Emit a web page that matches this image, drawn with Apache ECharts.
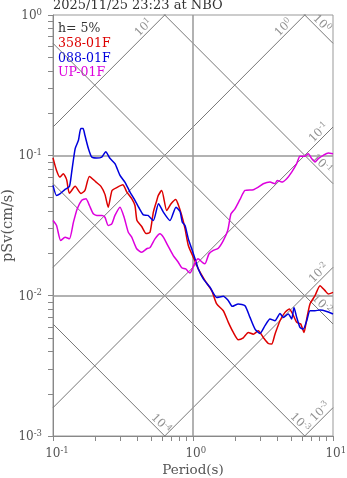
<!DOCTYPE html>
<html><head><meta charset="utf-8">
<script src="https://cdn.jsdelivr.net/npm/echarts@6/dist/echarts.min.js"></script>
<style>html,body{margin:0;padding:0;background:#fff}#c{width:347px;height:478px}</style>
</head><body><div id="c"></div>
<script>
const titleText = '2025/11/25 23:23 at NBO';
const dampingText = 'h= 5%';
const seriesNames = ['358-01F', '088-01F', 'UP-01F'];
const seriesColors = ['#dd0000', '#0000dd', '#dd00dd'];
const xTickExps = [-1, 0, 1];
const yTickExps = [-3, -2, -1, 0];
const accelLevels = [10, 1, 0.1, 0.01, 0.001];
const accelLabelT = [0.477, 4.77, 8.5, 8.5, 8.7];
const dispLevels = [1, 0.1, 0.01, 0.001, 0.0001];
const dispLabelT = [7.75, 7.75, 7.75, 5.42, 0.55];

const period358 = [0.100,0.106,0.112,0.1185,0.125,0.131,0.144,0.1585,0.169,0.182,0.203,0.220,0.235,0.248,0.264,0.287,0.315,0.338,0.365,0.385,0.398,0.430,0.462,0.493,0.521,0.551,0.565,0.598,0.649,0.697,0.752,0.785,0.831,0.877,0.926,1.005,1.091,1.218,1.360,1.477,1.646,1.788,1.941,2.107,2.287,2.483,2.696,2.927,3.177,3.451,3.648,3.852,4.182,4.541,4.875,5.153,5.505,5.878,6.209,6.489,6.852,7.438,8.075,8.770,9.257,10];
const sv358 = [0.0960,0.0781,0.0700,0.0740,0.0674,0.0537,0.0601,0.0535,0.0562,0.0708,0.0645,0.0601,0.0527,0.0427,0.0562,0.0591,0.0616,0.0544,0.0491,0.0439,0.0343,0.0311,0.0277,0.0283,0.0394,0.0477,0.0518,0.0562,0.0405,0.0452,0.0485,0.0445,0.0373,0.0300,0.0228,0.0188,0.0155,0.0128,0.01086,0.00873,0.00781,0.00645,0.00547,0.00485,0.00501,0.00547,0.00532,0.00562,0.00504,0.00456,0.00452,0.00532,0.00663,0.00760,0.00804,0.00740,0.00645,0.00628,0.00547,0.00682,0.00873,0.0100,0.01179,0.01086,0.01028,0.01056];

const period088 = [0.100,0.106,0.112,0.122,0.131,0.136,0.144,0.152,0.158,0.164,0.169,0.179,0.189,0.205,0.223,0.238,0.255,0.277,0.301,0.327,0.355,0.385,0.418,0.442,0.477,0.521,0.567,0.614,0.685,0.756,0.808,0.839,0.877,0.926,0.979,1.034,1.091,1.185,1.323,1.477,1.646,1.788,1.909,2.107,2.352,2.554,2.773,3.010,3.268,3.548,3.852,4.182,4.416,4.794,5.070,5.265,5.505,5.811,6.138,6.489,6.852,7.438,8.075,9.016,10];
const sv088 = [0.0611,0.0518,0.0532,0.0572,0.0601,0.0760,0.1117,0.1280,0.1551,0.1551,0.1389,0.1117,0.0972,0.0956,0.0972,0.1059,0.0952,0.0873,0.0720,0.0642,0.0547,0.0477,0.0411,0.0377,0.0373,0.0343,0.0452,0.0394,0.0343,0.0427,0.0398,0.0334,0.0316,0.0254,0.0216,0.0183,0.0155,0.01316,0.01147,0.00972,0.00989,0.00921,0.00839,0.00873,0.00849,0.00700,0.00578,0.00538,0.00611,0.00682,0.00663,0.00747,0.00700,0.00740,0.00682,0.00825,0.00700,0.00594,0.00578,0.00663,0.00781,0.00781,0.00790,0.00772,0.00740];

const periodUP = [0.100,0.106,0.1135,0.122,0.131,0.140,0.149,0.160,0.172,0.182,0.194,0.206,0.224,0.235,0.248,0.263,0.277,0.301,0.322,0.345,0.365,0.396,0.430,0.467,0.493,0.535,0.581,0.614,0.660,0.723,0.785,0.831,0.887,0.952,1.022,1.086,1.165,1.218,1.301,1.396,1.516,1.646,1.770,1.868,1.995,2.166,2.352,2.696,2.927,3.177,3.548,3.852,4.000,4.301,4.670,5.070,5.505,5.811,6.310,6.664,7.046,7.438,7.852,8.524,9.257,10];
const svUP = [0.0343,0.0316,0.0247,0.0261,0.0254,0.0334,0.0416,0.0477,0.0491,0.0439,0.0383,0.0373,0.0373,0.0362,0.0316,0.0325,0.0373,0.0427,0.0362,0.0283,0.0261,0.0216,0.0204,0.0216,0.0220,0.0254,0.0276,0.0261,0.0228,0.0193,0.0173,0.0158,0.0155,0.0145,0.0168,0.0183,0.0173,0.0169,0.0199,0.0210,0.0218,0.0247,0.0291,0.0383,0.0416,0.0485,0.0562,0.0569,0.0594,0.0628,0.0645,0.0628,0.0663,0.0645,0.0682,0.0760,0.0873,0.0984,0.0984,0.1028,0.0947,0.0896,0.0947,0.1000,0.1038,0.1028];

const FONT = '"DejaVu Serif", "Liberation Serif", serif';
const TWO_PI = 2 * Math.PI;
const zip = (a, b) => a.map((v, i) => [v, b[i]]);

function tickValues(exps) {
  const out = [];
  for (let i = 0; i < exps.length; i++) {
    const base = Math.pow(10, exps[i]);
    out.push(base);
    if (i < exps.length - 1) for (let m = 2; m <= 9; m++) out.push(m * base);
  }
  return out;
}
const majorValues = exps => exps.map(e => Math.pow(10, e));
const expOf = v => Math.round(Math.log10(v));
const TXT = '#555';

const richAxis = {
  b: { fontFamily: FONT, fontSize: 12, lineHeight: 14, color: TXT, verticalAlign: 'bottom' },
  s: { fontFamily: FONT, fontSize: 8.5, lineHeight: 9, color: TXT, verticalAlign: 'top' },
  pn: { width: 8, fontSize: 8 },
  pp: { width: 5.5, fontSize: 8 }
};
const richDiag = {
  b: { fontFamily: FONT, fontSize: 11.5, lineHeight: 13, color: '#777', verticalAlign: 'bottom' },
  s: { fontFamily: FONT, fontSize: 8, lineHeight: 8, color: '#777', verticalAlign: 'top' }
};

const diagLine = (data) => ({
  type: 'line', data, symbol: 'none', silent: true, z: 1,
  lineStyle: { color: '#777', width: 1 }, animation: false
});
const diagSeries = [];
accelLevels.forEach(a => diagSeries.push(diagLine([[0.1, a * 0.1 / TWO_PI], [10, a * 10 / TWO_PI]])));
dispLevels.forEach(d => diagSeries.push(diagLine([[0.1, TWO_PI * d / 0.1], [10, TWO_PI * d / 10]])));

// major grid lines (inner decades only)
const gridX = majorValues(xTickExps).slice(1, -1);
const gridY = majorValues(yTickExps).slice(1, -1);
diagSeries[0].markLine = {
  silent: true, symbol: 'none', animation: false,
  label: { show: false },
  lineStyle: { color: '#999', width: 1.5, type: 'solid' },
  emphasis: { disabled: true },
  data: gridX.map(v => ({ xAxis: v })).concat(gridY.map(v => ({ yAxis: v })))
};

const off = 0.032;
const labelData = [];
accelLevels.forEach((a, i) => {
  const t = accelLabelT[i];
  labelData.push({
    value: [Math.pow(10, Math.log10(t) - off), Math.pow(10, Math.log10(a * t / TWO_PI) + off)],
    label: { rotate: 45, formatter: '{b|10}{s|' + expOf(a) + '}' }
  });
});
dispLevels.forEach((d, i) => {
  const t = dispLabelT[i];
  labelData.push({
    value: [Math.pow(10, Math.log10(t) + off), Math.pow(10, Math.log10(TWO_PI * d / t) + off)],
    label: { rotate: -45, formatter: '{b|10}{s|' + expOf(d) + '}' }
  });
});

const dataSeries = [
  [period358, sv358], [period088, sv088], [periodUP, svUP]
].map((p, i) => ({
  type: 'line', name: seriesNames[i], data: zip(p[0], p[1]), symbol: 'none',
  smooth: 0.2, z: 5, animation: false,
  lineStyle: { color: seriesColors[i], width: 1.5 }
}));

const chart = echarts.init(document.getElementById('c'), null, { renderer: 'canvas' });
chart.setOption({
  backgroundColor: '#fff',
  animation: false,
  grid: { left: 53, right: 14, top: 15, bottom: 42, show: true, borderColor: '#999', borderWidth: 1, containLabel: false, outerBoundsMode: 'none' },
  xAxis: {
    type: 'log', logBase: 10, min: 0.1, max: 10, position: 'bottom',
    name: 'Period(s)', nameLocation: 'middle', nameGap: 27, nameMoveOverlap: false,
    nameTextStyle: { fontFamily: FONT, fontSize: 13.5, color: TXT },
    axisLine: { show: true, lineStyle: { color: '#888', width: 1 } },
    axisTick: { show: true, inside: false, length: 5, customValues: tickValues(xTickExps), lineStyle: { color: '#888' } },
    axisLabel: {
      customValues: majorValues(xTickExps), margin: 10,
      formatter: v => { const e = expOf(v); return '{' + (e < 0 ? 'pn' : 'pp') + '| }{b|10}{s|' + e + '}'; },
      rich: richAxis
    },
    splitLine: { show: false }
  },
  yAxis: {
    type: 'log', logBase: 10, min: 0.001, max: 1, position: 'left',
    name: 'pSv(cm/s)', nameLocation: 'middle', nameGap: 37, nameMoveOverlap: false,
    nameTextStyle: { fontFamily: FONT, fontSize: 14.5, color: TXT },
    axisLine: { show: true, lineStyle: { color: '#888', width: 1 } },
    axisTick: { show: true, inside: false, length: 5, customValues: tickValues(yTickExps), lineStyle: { color: '#888' } },
    axisLabel: {
      customValues: majorValues(yTickExps), margin: 11,
      formatter: v => '{b|10}{s|' + expOf(v) + '}',
      rich: richAxis
    },
    splitLine: { show: false }
  },
  series: diagSeries.concat([{
    type: 'scatter', data: labelData, symbolSize: 0, silent: true, z: 2, animation: false,
    label: { show: true, position: 'inside', rich: richDiag }
  }]).concat(dataSeries),
  graphic: [
    { type: 'text', x: 53, y: 5.5, style: { text: titleText, fontFamily: FONT, fontSize: 13, fill: '#333', verticalAlign: 'middle' } },
    { type: 'text', x: 58, y: 29, style: { text: dampingText, fontFamily: FONT, fontSize: 12.5, fill: '#333', verticalAlign: 'middle' } },
    { type: 'text', x: 58, y: 44, style: { text: seriesNames[0], fontFamily: FONT, fontSize: 12.5, fill: seriesColors[0], verticalAlign: 'middle' } },
    { type: 'text', x: 58, y: 59, style: { text: seriesNames[1], fontFamily: FONT, fontSize: 12.5, fill: seriesColors[1], verticalAlign: 'middle' } },
    { type: 'text', x: 58, y: 73, style: { text: seriesNames[2], fontFamily: FONT, fontSize: 12.5, fill: seriesColors[2], verticalAlign: 'middle' } }
  ]
});
</script></body></html>
